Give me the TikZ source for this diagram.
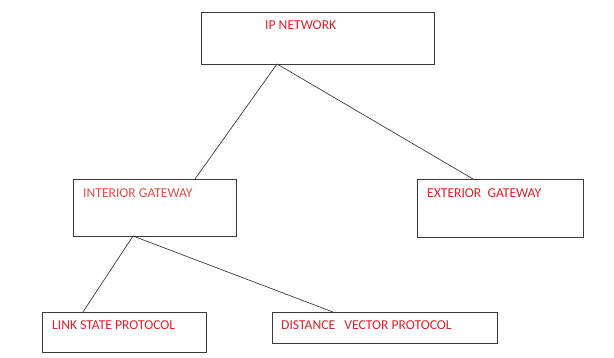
\documentclass[tikz,border=0pt]{standalone}
\usepackage{fontspec}
\setmainfont{Carlito}
\definecolor{txtred}{HTML}{E0202A}
\definecolor{txtsalmon}{HTML}{D9504A}
\definecolor{edge}{HTML}{3A3A3A}
\begin{document}
\begin{tikzpicture}[x=1pt,y=-1pt,
  box/.style={draw=edge,line width=0.9pt,fill=white},
  lbl/.style={anchor=west,inner sep=0pt,font=\fontsize{13.6}{15}\selectfont,text=txtred},
  conn/.style={draw=edge,line width=0.7pt}]
\useasboundingbox (0,0) rectangle (614,358);
% boxes
\node[box,minimum width=233pt,minimum height=52pt,anchor=north west,inner sep=0pt] (ip) at (201,12) {};
\node[box,minimum width=163pt,minimum height=57pt,anchor=north west,inner sep=0pt] (ig) at (73,179) {};
\node[box,minimum width=166pt,minimum height=58pt,anchor=north west,inner sep=0pt] (eg) at (417,179) {};
\node[box,minimum width=164pt,minimum height=40pt,anchor=north west,inner sep=0pt] (ls) at (42,312) {};
\node[box,minimum width=225pt,minimum height=31pt,anchor=north west,inner sep=0pt] (dv) at (272,312) {};
% labels
\node[lbl] (tip) at (265,25) {IP NETWORK};
\node[lbl,text=txtsalmon] (tig) at (83,193) {INTERIOR GATEWAY};
\node[lbl] (teg) at (427,193) {EXTERIOR\ \ GATEWAY};
\node[lbl] (tls) at (52,325) {LINK STATE PROTOCOL};
\node[lbl] (tdv) at (281,325) {DISTANCE\ \ \ VECTOR PROTOCOL};
% connection points
\coordinate (ipb) at (277,64);
\coordinate (igt) at (195,179);
\coordinate (egt) at (473,179);
\coordinate (igb) at (133,236);
\coordinate (lst) at (83,312);
\coordinate (dvt) at (333,312);
\draw[conn] (ipb) -- (igt);
\draw[conn] (ipb) -- (egt);
\draw[conn] (igb) -- (lst);
\draw[conn] (igb) -- (dvt);
\end{tikzpicture}
\end{document}
